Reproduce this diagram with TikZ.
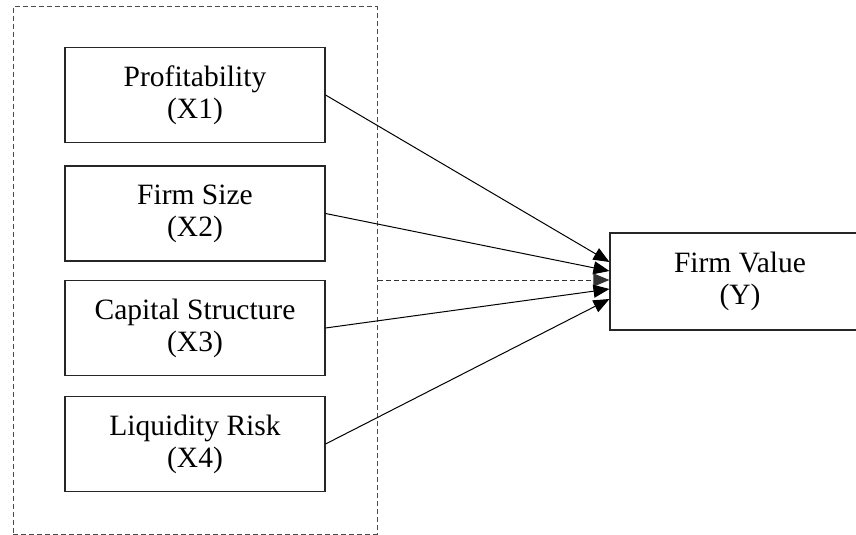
\documentclass[tikz,border=0pt]{standalone}
\usepackage{fontspec}
\setmainfont{Liberation Serif}
\usetikzlibrary{arrows.meta}
\begin{document}
\begin{tikzpicture}[x=1pt,y=-1pt,
  varbox/.style={draw=black!85, line width=1.1pt, minimum width=260pt, minimum height=95pt,
    align=center, inner sep=0pt, font=\fontsize{29.5}{32}\selectfont},
  groupbox/.style={draw=black!70, line width=1pt, dash pattern=on 5pt off 3pt,
    minimum width=364pt, minimum height=527pt, inner sep=0pt},
  arr/.style={line width=1pt, -{Triangle[length=16pt,width=13pt]}},
  dasharr/.style={arr, draw=black!80, dash pattern=on 5pt off 3pt}]
\clip (0,0) rectangle (856,535);
\node[groupbox] (grp) at (195,270.5) {};
\node[varbox] (x1) at (195,95) {Profitability\\(X1)};
\node[varbox] (x2) at (195,213.5) {Firm Size\\(X2)};
\node[varbox] (x3) at (195,328) {Capital Structure\\(X3)};
\node[varbox] (x4) at (195,444) {Liquidity Risk\\(X4)};
\node[varbox, minimum height=97pt] (y) at (740,281.5) {Firm Value\\(Y)};
\draw[arr] (x1.east) -- ([yshift=19.5pt]y.west);
\draw[arr] (x2.east) -- ([yshift=10.5pt]y.west);
\draw[dasharr] ([yshift=-9.5pt]grp.east) -- ([yshift=1.5pt]y.west);
\draw[arr] (x3.east) -- ([yshift=-7.5pt]y.west);
\draw[arr] (x4.east) -- ([yshift=-17.5pt]y.west);
\end{tikzpicture}
\end{document}
